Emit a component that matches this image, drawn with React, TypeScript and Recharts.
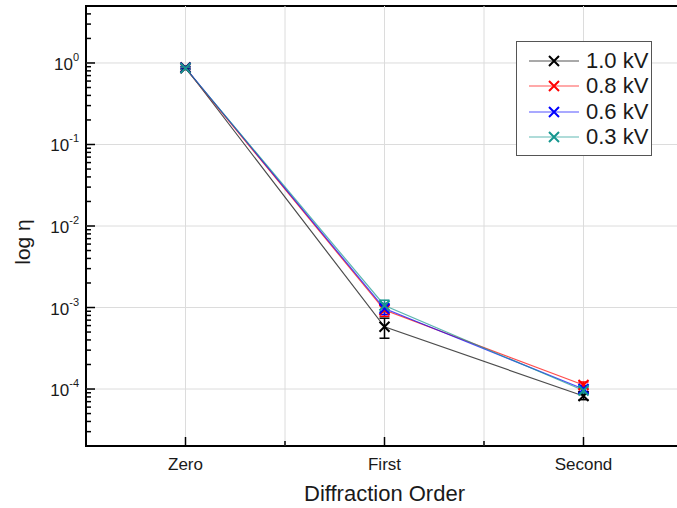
import React from 'react'
import { LineChart, Line, XAxis, YAxis, ErrorBar, ReferenceLine, ReferenceArea, Legend } from 'recharts'

const categories = ['Zero', 'First', 'Second']
const seriesNames = ['1.0 kV', '0.8 kV', '0.6 kV', '0.3 kV']
const lineColors = ['#000000', '#ff0000', '#0000ff', '#15968f']

const eta10 = [0.88, 5.8e-4, 8.2e-5]
const eta08 = [0.86, 9.3e-4, 1.12e-4]
const eta06 = [0.87, 9.7e-4, 1.0e-4]
const eta03 = [0.86, 1.06e-3, 9.6e-5]

const err10 = [0.03, 1.6e-4, 8e-6]
const err08 = [0.03, 1.5e-4, 1.0e-5]
const err06 = [0.03, 1.5e-4, 1.0e-5]
const err03 = [0.03, 1.7e-4, 8e-6]

const decades = [1, 0.1, 0.01, 0.001, 0.0001]
const exponents = ['0', '-1', '-2', '-3', '-4']
const xTicks = [0, 0.5, 1, 1.5, 2]

const font = 'Liberation Sans, Arial, sans-serif'
const textColor = '#1a1a1a'

const values = [eta10, eta08, eta06, eta03]
const errors = [err10, err08, err06, err03]
const keys = ['k10', 'k08', 'k06', 'k03']

const data = categories.map((name, i) => {
  const row: any = { x: i, name }
  keys.forEach((k, s) => {
    row[k] = values[s][i]
    row[k + 'Err'] = errors[s][i]
  })
  return row
})

// minor log ticks (2..9 per decade) plus the decades themselves
const yTicks: number[] = []
for (let e = -5; e <= 0; e++) {
  for (let m = 1; m <= 9; m++) {
    const v = m * Math.pow(10, e)
    if (v >= 2e-5 && v <= 5) yTicks.push(v)
  }
}

const isDecade = (v: number) => decades.some(d => Math.abs(v - d) / d < 1e-6)

const XTick = (props: any) => {
  const { x, y, payload } = props
  const axisY = y - 4
  const major = Number.isInteger(payload.value)
  return (
    <g>
      <line x1={x} x2={x} y1={axisY} y2={axisY - (major ? 9 : 5)} stroke="#000" strokeWidth={1.5} />
      {major && (
        <text x={x} y={axisY + 24} textAnchor="middle" fontSize={17} fontFamily={font} fill={textColor}>
          {categories[payload.value]}
        </text>
      )}
    </g>
  )
}

const YTick = (props: any) => {
  const { x, y, payload } = props
  const axisX = x + 8
  const v = payload.value
  const major = isDecade(v)
  const idx = decades.findIndex(d => Math.abs(v - d) / d < 1e-6)
  return (
    <g>
      <line x1={axisX} x2={axisX + (major ? 9 : 5)} y1={y} y2={y} stroke="#000" strokeWidth={1.5} />
      {major && (
        <text x={x + 1} y={y + 7} textAnchor="end" fontSize={17} fontFamily={font} fill={textColor}>
          10<tspan dy={-9} fontSize={11}>{exponents[idx]}</tspan>
        </text>
      )}
    </g>
  )
}

const crossDot = (color: string) => (props: any) => {
  const { cx, cy, index } = props
  if (cx == null || cy == null) return <g key={index} />
  const r = 5
  return (
    <path
      key={index}
      d={`M${cx - r},${cy - r}L${cx + r},${cy + r}M${cx - r},${cy + r}L${cx + r},${cy - r}`}
      stroke={color}
      strokeWidth={2}
      fill="none"
    />
  )
}

const LegendBox = () => (
  <div
    style={{
      border: '1px solid #555',
      background: '#fff',
      width: 134,
      padding: '6px 0 5px 0',
      fontFamily: font,
      fontSize: 22,
      color: textColor,
    }}
  >
    {seriesNames.map((n, i) => (
      <div key={n} style={{ display: 'flex', alignItems: 'center', height: 25.5 }}>
        <svg width={66} height={20} style={{ display: 'block' }}>
          <line x1={12} x2={62} y1={10} y2={10} stroke={lineColors[i]} strokeOpacity={0.45} strokeWidth={1.5} />
          <path d="M32,5L42,15M32,15L42,5" stroke={lineColors[i]} strokeWidth={2} fill="none" />
        </svg>
        <span style={{ marginLeft: 3, lineHeight: '22px' }}>{n}</span>
      </div>
    ))}
  </div>
)

export default function App() {
  return (
    <div style={{ position: 'fixed', left: 0, top: 0, width: 677, height: 508, overflow: 'hidden', background: '#fff' }}>
      <LineChart width={700} height={508} data={data} margin={{ top: 6, right: 17, bottom: 0, left: 0 }}>
        <XAxis
          dataKey="x"
          type="number"
          domain={[-0.5, 2.5]}
          ticks={xTicks}
          interval={0}
          tickSize={0}
          tickMargin={4}
          axisLine={false}
          tickLine={false}
          height={62}
          tick={<XTick />}
          label={{ value: 'Diffraction Order', position: 'insideBottom', offset: 7, fontSize: 22, fontFamily: font, fill: textColor }}
        />
        <YAxis
          type="number"
          scale="log"
          domain={[2e-5, 5]}
          allowDataOverflow
          ticks={yTicks}
          interval={0}
          tickSize={0}
          tickMargin={8}
          axisLine={false}
          tickLine={false}
          width={86}
          tick={<YTick />}
          label={{
            content: (p: any) => {
              const vb = p.viewBox
              const cx = 30
              const cy = vb.y + vb.height / 2 + 16
              return (
                <text
                  x={cx}
                  y={cy}
                  transform={`rotate(-90, ${cx}, ${cy})`}
                  textAnchor="middle"
                  fontSize={21}
                  fontFamily={font}
                  fill={textColor}
                >
                  log η
                </text>
              )
            },
          }}
        />
        {decades.map(d => (
          <ReferenceLine key={'h' + d} y={d} stroke="#dcdcdc" strokeWidth={1} />
        ))}
        {xTicks.map(t => (
          <ReferenceLine key={'v' + t} x={t} stroke="#dcdcdc" strokeWidth={1} />
        ))}
        <ReferenceArea x1={-0.5} x2={2.5} y1={2e-5} y2={5} fill="none" stroke="#000" strokeWidth={2} />
        {keys.map((k, s) => (
          <Line
            key={k}
            dataKey={k}
            name={seriesNames[s]}
            stroke={lineColors[s]}
            strokeOpacity={0.7}
            strokeWidth={1.2}
            dot={crossDot(lineColors[s])}
            activeDot={false}
            isAnimationActive={false}
          >
            <ErrorBar dataKey={k + 'Err'} width={5} stroke={lineColors[s]} strokeWidth={1.5} direction="y" />
          </Line>
        ))}
        <Legend
          layout="vertical"
          align="center"
          verticalAlign="middle"
          wrapperStyle={{ left: 516, top: 41, width: 136 }}
          content={<LegendBox />}
        />
      </LineChart>
    </div>
  )
}
